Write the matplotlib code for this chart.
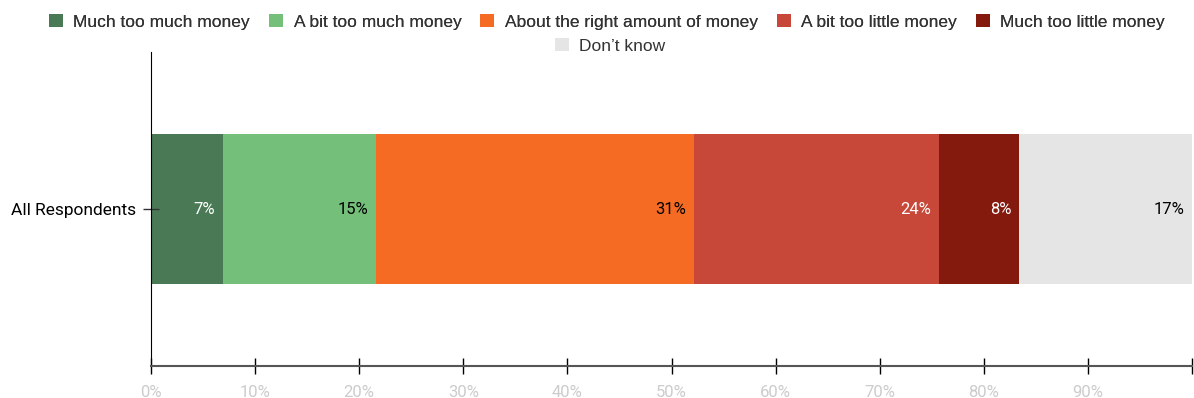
import numpy as np
import matplotlib.pyplot as plt
from matplotlib.patches import Patch

plt.rcParams['font.family'] = ['Roboto', 'DejaVu Sans']

categories = ['Much too much money', 'A bit too much money', 'About the right amount of money',
              'A bit too little money', 'Much too little money', "Don’t know"]
values = [6.9, 14.7, 30.6, 23.5, 7.7, 16.6]
colors = ['#4a7a55', '#74bf7a', '#f56b23', '#c74739', '#84190d', '#e5e5e5']
label_colors = ['white', 'black', 'black', 'white', 'white', 'black']
group = 'All Respondents'

fig = plt.figure(figsize=(11.94, 3.98), dpi=100)
ax = fig.add_axes([151 / 1194, 1 - 366 / 398, 1041 / 1194, 314 / 398])

left = 0
for v, c, tc in zip(values, colors, label_colors):
    ax.barh(0, v, left=left, height=1.0, color=c, edgecolor='none')
    ax.text(left + v - 0.75, 0, f'{v:.0f}%', ha='right', va='center',
            color=tc, fontsize=12)
    left += v

ax.set_xlim(0, 100)
ax.set_ylim(-1.04, 1.04)
# tick at 100% carries no label
ax.set_xticks(np.arange(0, 101, 10))
ax.set_xticklabels([f'{t}%' for t in range(0, 100, 10)] + [''])
ax.set_yticks([0])
ax.set_yticklabels([group])

ax.tick_params(axis='x', direction='inout', length=11, width=1.0, colors='black',
               labelcolor='#cccccc', labelsize=12, pad=8)
ax.tick_params(axis='y', direction='inout', length=11, width=1.0, colors='#333333',
               labelcolor='black', labelsize=12.5, pad=5)
for s in ['top', 'right']:
    ax.spines[s].set_visible(False)
ax.spines['left'].set_color('black')
ax.spines['bottom'].set_color('#555555')
ax.spines['bottom'].set_linewidth(1.5)

# legend: five on the first row, "Don't know" centred underneath
handles = [Patch(facecolor=c, edgecolor='none') for c in colors]
leg_kw = dict(frameon=False, handlelength=0.8, handleheight=0.8,
              handletextpad=0.6, columnspacing=1.1, labelcolor='#333333',
              prop={'family': ['Liberation Sans', 'DejaVu Sans'], 'size': 12.5})
leg1 = fig.legend(handles[:5], categories[:5], ncol=5, loc='center',
                  bbox_to_anchor=(607 / 1194, 1 - 22 / 398), **leg_kw)
fig.add_artist(leg1)
fig.legend(handles[5:], categories[5:], ncol=1, loc='center',
           bbox_to_anchor=(610 / 1194, 1 - 46 / 398), **leg_kw)

fig.savefig('out.png', dpi=100)
